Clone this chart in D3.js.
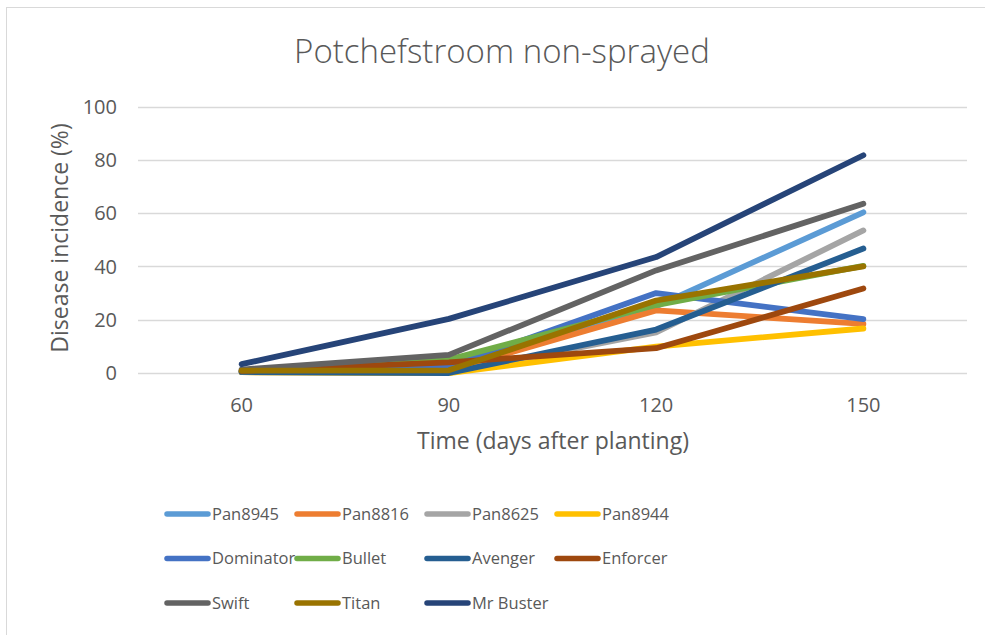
<!DOCTYPE html>
<html>
<style>
    body {
      margin: 0;
      overflow: hidden;
      background: #fff;
    }
    text {
      font-family: "Open Sans", sans-serif;
      fill: #595959;
    }
</style>
<script src="https://d3js.org/d3.v7.min.js"></script>
<svg id="chart" width="985" height="635"></svg>
<script>
var days = ["60", "90", "120", "150"];

var names = ["Pan8945", "Pan8816", "Pan8625", "Pan8944", "Dominator", "Bullet",
             "Avenger", "Enforcer", "Swift", "Titan", "Mr Buster"];

var pan8945   = [0.5, 1.0, 25.0, 60.3],
    pan8816   = [0.5, 1.0, 23.5, 18.4],
    pan8625   = [0.3, 0.0, 15.2, 53.5],
    pan8944   = [0.3, 0.0, 9.9, 16.7],
    dominator = [0.5, 2.4, 30.0, 20.2],
    bullet    = [0.7, 5.0, 25.5, 40.2],
    avenger   = [0.4, 0.0, 16.3, 46.7],
    enforcer  = [0.8, 4.0, 9.3, 31.7],
    swift     = [1.3, 6.8, 38.5, 63.5],
    titan     = [0.9, 1.0, 27.2, 40.0],
    mrBuster  = [3.3, 20.3, 43.5, 81.7];

var yTicks = [0, 20, 40, 60, 80, 100];

var seriesValues = [pan8945, pan8816, pan8625, pan8944, dominator, bullet,
                    avenger, enforcer, swift, titan, mrBuster];

var colors = ["#5B9BD5", "#ED7D31", "#A5A5A5", "#FFC000", "#4472C4", "#70AD47",
              "#255E91", "#9E480E", "#636363", "#997300", "#264478"];

var series = names.map(function(n, i) {
  return {name: n, color: colors[i], values: seriesValues[i]};
});

var svg = d3.select("#chart");

// chart frame (cut off at right/bottom like the screenshot)
svg.append("rect")
    .attr("x", 6.5).attr("y", 7.5)
    .attr("width", 1000).attr("height", 700)
    .style("fill", "#fff")
    .style("stroke", "#d9d9d9");

var plot = {left: 138, right: 967, top: 106.5, bottom: 373};

var x = d3.scaleBand().domain(days).range([plot.left, plot.right]),
    y = d3.scaleLinear().domain([0, 100]).range([plot.bottom, plot.top]);

// gridlines
svg.append("g")
  .selectAll("line")
    .data(yTicks)
  .enter().append("line")
    .attr("x1", plot.left).attr("x2", plot.right)
    .attr("y1", function(d) {return Math.round(y(d)) + 0.5})
    .attr("y2", function(d) {return Math.round(y(d)) + 0.5})
    .style("stroke", "#d9d9d9")
    .style("stroke-width", 1.3);

// y tick labels
svg.append("g")
  .selectAll("text")
    .data(yTicks)
  .enter().append("text")
    .attr("x", 117)
    .attr("y", function(d) {return y(d)})
    .attr("dy", "0.36em")
    .attr("text-anchor", "end")
    .style("font-size", "20px")
    .text(function(d) {return d});

// x tick labels
svg.append("g")
  .selectAll("text")
    .data(days)
  .enter().append("text")
    .attr("x", function(d) {return x(d) + x.bandwidth()/2})
    .attr("y", 412)
    .attr("text-anchor", "middle")
    .style("font-size", "20px")
    .text(function(d) {return d});

// lines
var line = d3.line()
    .x(function(d, i) {return x(days[i]) + x.bandwidth()/2})
    .y(function(d) {return y(d)});

svg.append("g")
  .selectAll("path")
    .data(series)
  .enter().append("path")
    .attr("d", function(d) {return line(d.values)})
    .style("fill", "none")
    .style("stroke", function(d) {return d.color})
    .style("stroke-width", 5.8)
    .style("stroke-linecap", "round")
    .style("stroke-linejoin", "round");

// titles
svg.append("text")
    .attr("x", 502).attr("y", 63)
    .attr("text-anchor", "middle")
    .style("font-size", "33px")
    .style("font-weight", 300)
    .text("Potchefstroom non-sprayed");

svg.append("text")
    .attr("x", 553).attr("y", 449)
    .attr("text-anchor", "middle")
    .style("font-size", "23px")
    .text("Time (days after planting)");

svg.append("text")
    .attr("transform", "translate(68, 238) rotate(-90)")
    .attr("text-anchor", "middle")
    .style("font-size", "23px")
    .text("Disease incidence (%)");

// legend
var legend = svg.append("g")
  .selectAll("g")
    .data(series)
  .enter().append("g")
    .attr("transform", function(d, i) {
      return "translate(" + (167 + (i % 4) * 130) + "," + (514 + Math.floor(i / 4) * 44.5) + ")";
    });

legend.append("line")
    .attr("x1", 0).attr("x2", 41)
    .style("stroke", function(d) {return d.color})
    .style("stroke-width", 5.5)
    .style("stroke-linecap", "round");

legend.append("text")
    .attr("x", 45)
    .attr("dy", "0.36em")
    .style("font-size", "16.5px")
    .text(function(d) {return d.name});
</script>
</html>
